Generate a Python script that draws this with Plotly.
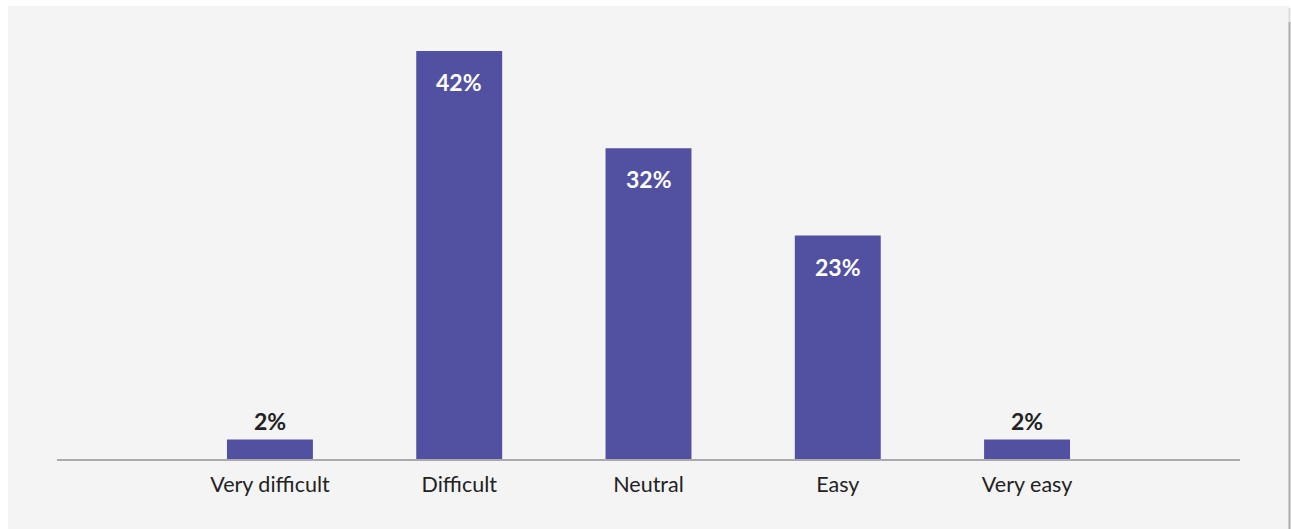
import plotly.graph_objects as go

# Survey responses: how difficult was it?
categories = ["Very difficult", "Difficult", "Neutral", "Easy", "Very easy"]
shares = [2, 42, 32, 23, 2]

BAR_COLOR = "#5150a1"
TEXT_DARK = "#222222"
FONT = "Lato, 'Open Sans', sans-serif"

W, H = 1291, 529
M_L, M_R, M_T, M_B = 57, 51, 20, 70
Y_MAX = 45.19

fig = go.Figure(
    go.Bar(
        x=list(range(len(categories))),
        y=shares,
        marker=dict(color=BAR_COLOR, line=dict(width=0)),
        width=0.454,
        hoverinfo="skip",
    )
)

# value labels: inside the top of tall bars, above short ones
for i, v in enumerate(shares):
    inside = v >= 10
    fig.add_annotation(
        x=i,
        y=v,
        text=f"<b>{v}%</b>",
        showarrow=False,
        yanchor="middle",
        yshift=-31 if inside else 19,
        font=dict(family=FONT, size=23, color="white" if inside else TEXT_DARK),
    )

plot_w = W - M_L - M_R
plot_h = H - M_T - M_B

# light grey backing panel
fig.add_shape(
    type="rect",
    xref="paper", yref="paper",
    x0=(8 - M_L) / plot_w, x1=(1289 - M_L) / plot_w,
    y0=-(M_B + 2) / plot_h, y1=(H - M_B - 6) / plot_h,
    fillcolor="#f4f4f4", line=dict(width=0), layer="below",
)
# shadow edge on the right side of the panel
fig.add_shape(
    type="line",
    xref="paper", yref="paper",
    x0=(1289.5 - M_L) / plot_w, x1=(1289.5 - M_L) / plot_w,
    y0=-(M_B + 2) / plot_h, y1=(H - M_B - 22) / plot_h,
    line=dict(color="#aaaaaa", width=2), layer="below",
)
fig.add_shape(
    type="line",
    xref="paper", yref="paper",
    x0=(1289.5 - M_L) / plot_w, x1=(1289.5 - M_L) / plot_w,
    y0=(H - M_B - 22) / plot_h, y1=(H - M_B - 8) / plot_h,
    line=dict(color="#dddddd", width=2), layer="below",
)

fig.update_layout(
    width=W,
    height=H,
    margin=dict(l=M_L, r=M_R, t=M_T, b=M_B),
    paper_bgcolor="white",
    plot_bgcolor="rgba(0,0,0,0)",
    showlegend=False,
    font=dict(family=FONT, color=TEXT_DARK),
    xaxis=dict(
        range=[-1.125, 5.125],
        tickmode="array",
        tickvals=list(range(len(categories))),
        ticktext=categories,
        tickfont=dict(family=FONT, size=21.5, color=TEXT_DARK),
        showgrid=False,
        zeroline=False,
        showline=True,
        linecolor="#aaaaaa",
        linewidth=2,
        ticks="outside",
        ticklen=5,
        tickcolor="rgba(0,0,0,0)",
        fixedrange=True,
    ),
    yaxis=dict(
        range=[0, Y_MAX],
        visible=False,
        showgrid=False,
        zeroline=False,
        fixedrange=True,
    ),
)

fig.write_html("out.html")
